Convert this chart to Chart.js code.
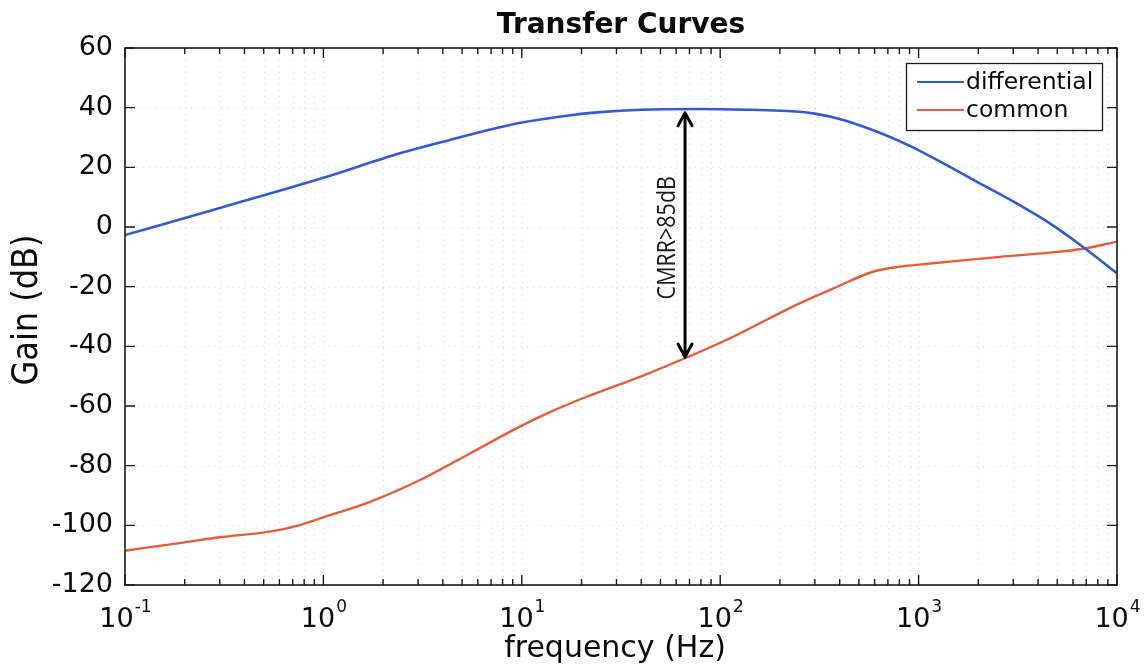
<!DOCTYPE html>
<html><head><meta charset="utf-8">
<script src="https://cdn.jsdelivr.net/npm/chart.js@4.4.1/dist/chart.umd.min.js"></script>
<style>html,body{margin:0;padding:0;background:#fff;}canvas{display:block;}</style>
</head><body>
<canvas id="c" width="1145" height="672"></canvas>
<script>
const chartTitle = 'Transfer Curves';
const xAxisTitle = 'frequency (Hz)';
const yAxisTitle = 'Gain (dB)';
const seriesNames = ['differential', 'common'];
const seriesColors = ['#2f5bd8', '#ea5a35'];

const freqDiff = [0.1, 0.316, 1, 2.43, 4.35, 7.76, 10, 16.8, 24.8, 40, 79, 158, 230, 300, 417, 614, 904, 1334, 1960, 3120, 4590, 6900, 10000];
const gainDiff = [-2.7, 6.8, 16.5, 24.7, 29.2, 33.4, 35.0, 37.3, 38.5, 39.3, 39.55, 39.2, 38.8, 38.0, 35.9, 32.0, 27.2, 21.3, 15.2, 7.9, 1.2, -7.2, -15.5];

const freqCommon = [0.1, 0.2, 0.3, 0.538, 0.762, 1, 1.72, 3.07, 5.48, 9.77, 13.6, 21.2, 39.4, 66.5, 112, 251, 372, 589, 805, 977, 1440, 2570, 4590, 6900, 10000];
const gainCommon = [-108.5, -105.7, -104.0, -102.1, -99.9, -97.3, -92.1, -84.8, -75.9, -66.9, -62.3, -56.9, -50.2, -44.0, -37.3, -25.6, -20.6, -15.0, -13.3, -12.7, -11.6, -10.0, -8.6, -7.2, -4.9];

const xDecadeTicks = [0.1, 1, 10, 100, 1000, 10000];
const xTickExponents = ['-1', '0', '1', '2', '3', '4'];
const yTicks = [-120, -100, -80, -60, -40, -20, 0, 20, 40, 60];

const annotationText = 'CMRR>85dB';
const arrowFreq = 66.5, arrowTop = 38.3, arrowBottom = -43.6;
const labelFreq = 54.6, labelGain = -3.6;

const FONT = '"DejaVu Sans", "Liberation Sans", sans-serif';

function minorTicks() {
  const out = [];
  for (let i = 0; i < xDecadeTicks.length - 1; i++) {
    for (let m = 2; m <= 9; m++) out.push(xDecadeTicks[i] * m);
  }
  return out;
}

const matlabPlugin = {
  id: 'matlab',
  beforeDatasetsDraw(chart) {
    const {ctx, chartArea: a, scales: {x, y}} = chart;
    ctx.save();
    ctx.strokeStyle = 'rgba(0,0,0,0.14)';
    ctx.lineWidth = 1;
    ctx.setLineDash([1, 5]);
    const xs = xDecadeTicks.concat(minorTicks());
    xs.forEach(v => {
      const px = Math.round(x.getPixelForValue(v)) + 0.5;
      ctx.beginPath(); ctx.moveTo(px, a.top); ctx.lineTo(px, a.bottom); ctx.stroke();
    });
    yTicks.forEach(v => {
      const py = Math.round(y.getPixelForValue(v)) + 0.5;
      ctx.beginPath(); ctx.moveTo(a.left, py); ctx.lineTo(a.right, py); ctx.stroke();
    });
    ctx.restore();
  },
  afterDraw(chart) {
    const {ctx, chartArea: a, scales: {x, y}} = chart;
    ctx.save();
    ctx.strokeStyle = '#1a1a1a';
    ctx.lineWidth = 1.6;
    ctx.strokeRect(a.left, a.top, a.right - a.left, a.bottom - a.top);
    ctx.lineWidth = 1.4;
    ctx.beginPath();
    yTicks.forEach(v => {
      const py = y.getPixelForValue(v);
      ctx.moveTo(a.left, py); ctx.lineTo(a.left + 10, py);
      ctx.moveTo(a.right, py); ctx.lineTo(a.right - 10, py);
    });
    xDecadeTicks.forEach(v => {
      const px = x.getPixelForValue(v);
      ctx.moveTo(px, a.bottom); ctx.lineTo(px, a.bottom - 10);
      ctx.moveTo(px, a.top); ctx.lineTo(px, a.top + 10);
    });
    minorTicks().forEach(v => {
      const px = x.getPixelForValue(v);
      ctx.moveTo(px, a.bottom); ctx.lineTo(px, a.bottom - 6);
      ctx.moveTo(px, a.top); ctx.lineTo(px, a.top + 6);
    });
    ctx.stroke();

    ctx.fillStyle = '#0a0a0a';
    ctx.textBaseline = 'alphabetic';
    ctx.textAlign = 'left';
    xDecadeTicks.forEach((v, i) => {
      const px = x.getPixelForValue(v);
      ctx.font = '27px ' + FONT;
      const wb = ctx.measureText('10').width;
      ctx.font = '17px ' + FONT;
      const we = ctx.measureText(xTickExponents[i]).width;
      const sx = px - (wb + we) / 2;
      ctx.font = '27px ' + FONT;
      ctx.fillText('10', sx, 627);
      ctx.font = '17px ' + FONT;
      ctx.fillText(xTickExponents[i], sx + wb + 1, 612);
    });

    ctx.textAlign = 'center';
    ctx.font = '30px ' + FONT;
    ctx.fillText(xAxisTitle, (a.left + a.right) / 2 - 6, 657);
    ctx.save();
    ctx.translate(28, 310);
    ctx.scale(1.12, 1);
    ctx.rotate(-Math.PI / 2);
    ctx.textBaseline = 'middle';
    ctx.font = '32px ' + FONT;
    ctx.fillText(yAxisTitle, 0, 0);
    ctx.restore();

    ctx.font = 'bold 28px ' + FONT;
    ctx.textBaseline = 'alphabetic';
    ctx.fillText(chartTitle, (a.left + a.right) / 2, 33);

    const lx = 906, ly = 63, lw = 196, lh = 67;
    ctx.fillStyle = '#fff';
    ctx.fillRect(lx, ly, lw, lh);
    ctx.strokeStyle = '#1a1a1a';
    ctx.lineWidth = 1.3;
    ctx.strokeRect(lx + 0.5, ly + 0.5, lw, lh);
    const rows = [82, 110];
    ctx.font = '23.5px ' + FONT;
    ctx.textAlign = 'left';
    ctx.textBaseline = 'alphabetic';
    chart.data.datasets.forEach((ds, i) => {
      ctx.strokeStyle = ds.borderColor;
      ctx.lineWidth = 2;
      ctx.beginPath(); ctx.moveTo(917, rows[i]); ctx.lineTo(964, rows[i]); ctx.stroke();
      ctx.fillStyle = '#0a0a0a';
      ctx.fillText(ds.label, 966, rows[i] + 6.5);
    });

    const ax = x.getPixelForValue(arrowFreq);
    const at = y.getPixelForValue(arrowTop);
    const ab = y.getPixelForValue(arrowBottom);
    ctx.strokeStyle = '#000';
    ctx.lineWidth = 3;
    ctx.lineCap = 'round';
    ctx.lineJoin = 'round';
    ctx.beginPath();
    ctx.moveTo(ax, at + 1); ctx.lineTo(ax, ab - 1);
    ctx.moveTo(ax - 7, at + 13); ctx.lineTo(ax, at); ctx.lineTo(ax + 7, at + 13);
    ctx.moveTo(ax - 7, ab - 13); ctx.lineTo(ax, ab); ctx.lineTo(ax + 7, ab - 13);
    ctx.stroke();

    ctx.save();
    ctx.translate(x.getPixelForValue(labelFreq), y.getPixelForValue(labelGain));
    ctx.scale(1.15, 1);
    ctx.rotate(-Math.PI / 2);
    ctx.textAlign = 'center';
    ctx.textBaseline = 'middle';
    ctx.fillStyle = '#1a1a1a';
    ctx.font = '21.5px "Open Sans", "Noto Sans", sans-serif';
    ctx.fillText(annotationText, 0, 0);
    ctx.restore();

    ctx.restore();
  }
};

new Chart(document.getElementById('c'), {
  type: 'line',
  data: {
    datasets: [
      { label: seriesNames[0], data: freqDiff.map((f, i) => ({x: f, y: gainDiff[i]})),
        borderColor: seriesColors[0], borderWidth: 2.6, pointRadius: 0, cubicInterpolationMode: 'monotone', fill: false },
      { label: seriesNames[1], data: freqCommon.map((f, i) => ({x: f, y: gainCommon[i]})),
        borderColor: seriesColors[1], borderWidth: 2.4, pointRadius: 0, cubicInterpolationMode: 'monotone', fill: false }
    ]
  },
  options: {
    responsive: false,
    animation: false,
    devicePixelRatio: 1,
    layout: { padding: { top: 48, right: 28, left: 0, bottom: 0 } },
    plugins: { legend: { display: false }, title: { display: false }, tooltip: { enabled: false } },
    scales: {
      x: {
        type: 'logarithmic', min: 0.1, max: 10000,
        ticks: { display: false },
        grid: { display: false, drawTicks: false },
        border: { display: false },
        afterFit: s => { s.height = 87; }
      },
      y: {
        type: 'linear', min: -120, max: 60,
        afterBuildTicks: s => { s.ticks = yTicks.map(v => ({ value: v })); },
        ticks: { color: '#0a0a0a', padding: 12, font: { family: FONT, size: 27 } },
        grid: { display: false, drawTicks: false },
        border: { display: false },
        afterFit: s => { s.width = 125; }
      }
    }
  },
  plugins: [matlabPlugin]
});
</script>
</body></html>
